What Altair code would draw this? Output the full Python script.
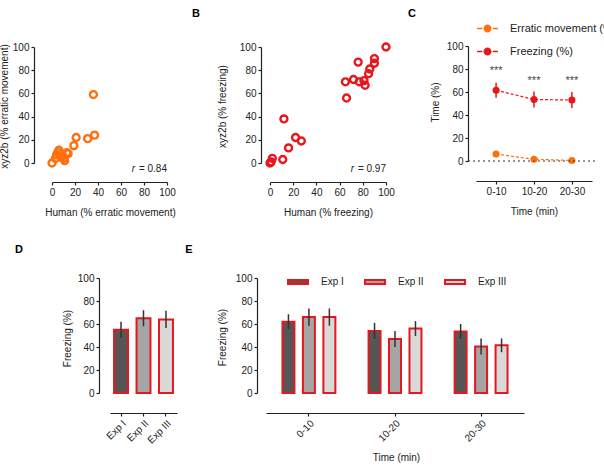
import altair as alt
import pandas as pd

W, H = 604, 474
FONT = "Liberation Sans"
INK = "#222222"
ORANGE = "#ff6f0f"
RED = "#e8161d"
GREYS = ["#565656", "#a5a5a5", "#d9d9d9"]
TICKS = [0, 20, 40, 60, 80, 100]

# ---------------- data ----------------
# A: erratic movement (%), human scorer vs xyz2b
human_err = [0, 3, 4, 6, 8, 10, 11, 13, 14, 9, 5, 7, 19, 21, 31, 37, 36]
xyz_err = [0, 4, 7, 11, 5, 4, 2, 9, 8, 7, 9, 6, 15, 22, 21, 24, 59]
r_err = 0.84

# B: freezing (%), human scorer vs xyz2b
human_frz = [0, 1, 2, 11, 16, 12, 22, 27, 65, 66, 72, 76, 77, 81, 82, 85, 86, 90, 90, 100]
xyz_frz = [0, 1, 4, 3, 13, 38, 22, 19, 70, 56, 72, 87, 70, 71, 67, 77, 81, 86, 90, 100]
r_frz = 0.97

# C: time course of both behaviours
time_bins = ["0-10", "10-20", "20-30"]
series_names = ["Erratic movement (%)", "Freezing (%)"]
erratic_mean = [6.0, 1.5, 0.5]
erratic_sem = [1.5, 1.0, 0.5]
freezing_mean = [61.5, 53.5, 53.0]
freezing_sem = [6.5, 7.0, 7.0]
star_labels = ["***", "***", "***"]
star_y = [78, 70, 70]

# D: freezing per experiment
exp_names = ["Exp I", "Exp II", "Exp III"]
exp_mean = [55, 65, 64]
exp_sem = [7, 7, 7.5]

# E: freezing per experiment and time bin
e_mean_0_10 = [62, 66, 66]
e_sem_0_10 = [6.5, 7.5, 7.5]
e_mean_10_20 = [54, 47, 56]
e_sem_10_20 = [7, 7, 6.5]
e_mean_20_30 = [53.5, 40.5, 41.5]
e_sem_20_30 = [6.5, 7, 6]


# ---------------- helpers ----------------
def left_axis(at_x, title, title_cx, title_cy):
    return alt.Axis(orient="left", offset=-at_x, values=TICKS, title=title,
                    titleX=title_cx - at_x, titleY=title_cy, titleAngle=270,
                    titleAlign="center", titleBaseline="middle")


def bottom_axis(at_y, title=None, title_cx=0, title_cy=0, **kw):
    props = dict(orient="bottom", offset=at_y - H, **kw)
    if title:
        props.update(title=title, titleX=title_cx, titleY=title_cy - at_y,
                     titleAlign="center", titleBaseline="middle")
    else:
        props.update(title=None)
    return alt.Axis(**props)


def pct_scale(top, bottom):
    return alt.Scale(domain=[0, 100], range=[bottom, top], nice=False, zero=False)


def r_label(xf, yf, r):
    df = pd.DataFrame({xf: [100], yf: [-5]})
    base = alt.Chart(df).encode(x=alt.X(f"{xf}:Q"), y=alt.Y(f"{yf}:Q"))
    eq = base.mark_text(text=f"= {r:.2f}", align="right", baseline="middle",
                        font=FONT, fontSize=10, color=INK)
    sym = base.mark_text(text="r", align="right", baseline="middle", font=FONT,
                         fontSize=10, fontStyle="italic", color=INK, dx=-32)
    return alt.layer(eq, sym)


def letter(ch, px, py):
    return alt.Chart(pd.DataFrame({"panel": [ch]})).mark_text(
        font=FONT, fontSize=11, fontWeight="bold", color="#000000",
        align="center", baseline="middle"
    ).encode(text="panel:N", x=alt.value(px), y=alt.value(py))


# ---------------- panel A ----------------
df_a = pd.DataFrame({"human": human_err, "xyz": xyz_err})
pts_a = alt.Chart(df_a).mark_point(shape="circle", filled=False, size=48, strokeWidth=2.4,
                                   color=ORANGE, opacity=1).encode(
    x=alt.X("human:Q", scale=alt.Scale(domain=[0, 100], range=[52, 167], nice=False),
            axis=bottom_axis(182, "Human (% erratic movement)", 110, 212, values=TICKS)),
    y=alt.Y("xyz:Q", scale=pct_scale(47, 163),
            axis=left_axis(34, "xyz2b (% erratic movement)", 4, 106)),
)
panel_a = alt.layer(pts_a, r_label("human", "xyz", r_err))

# ---------------- panel B ----------------
df_b = pd.DataFrame({"human": human_frz, "xyz": xyz_frz})
pts_b = alt.Chart(df_b).mark_point(shape="circle", filled=False, size=48, strokeWidth=2.4,
                                   color=RED, opacity=1).encode(
    x=alt.X("human:Q", scale=alt.Scale(domain=[0, 100], range=[270, 386], nice=False),
            axis=bottom_axis(182, "Human (% freezing)", 328, 212, values=TICKS)),
    y=alt.Y("xyz:Q", scale=pct_scale(47, 163),
            axis=left_axis(261, "xyz2b (% freezing)", 222, 106)),
)
panel_b = alt.layer(pts_b, r_label("human", "xyz", r_frz))

# ---------------- panel C ----------------
df_c = pd.DataFrame({
    "time": time_bins * 2,
    "series": [series_names[0]] * 3 + [series_names[1]] * 3,
    "mean": erratic_mean + freezing_mean,
    "sem": erratic_sem + freezing_sem,
})
df_c["lo"] = df_c["mean"] - df_c["sem"]
df_c["hi"] = df_c["mean"] + df_c["sem"]

c_xscale = alt.Scale(type="point", domain=time_bins, range=[476, 592], padding=0.53)
c_color = alt.Scale(domain=series_names, range=[ORANGE, RED])
cx_plain = alt.X("time:N", scale=c_xscale)

legend_c = alt.Legend(
    title=None, orient="none", legendX=482, legendY=23, direction="vertical",
    symbolType="M-2.6,-0.16H-1.3V0.16H-2.6Z M1.3,-0.16H2.6V0.16H1.3Z "
               "M-1,0A1,1 0 1,0 1,0A1,1 0 1,0 -1,0Z",
    symbolSize=64, symbolStrokeWidth=0, symbolOpacity=1, labelOffset=17,
    rowPadding=11, labelFontSize=11, labelFont=FONT, labelColor=INK, padding=0,
)

zero_c = alt.Chart(pd.DataFrame({"level": [0]})).mark_rule(
    strokeDash=[2, 3], color="#333333", strokeWidth=1.2
).encode(y=alt.Y("level:Q"), x=alt.value(468), x2=alt.value(598))

line_c = alt.Chart(df_c).mark_line(strokeDash=[3, 2], strokeWidth=1.2).encode(
    x=cx_plain, y=alt.Y("mean:Q"),
    stroke=alt.Stroke("series:N", scale=c_color, legend=None))
err_c = alt.Chart(df_c).mark_rule(strokeWidth=1.5).encode(
    x=cx_plain, y=alt.Y("lo:Q"), y2="hi:Q",
    stroke=alt.Stroke("series:N", scale=c_color, legend=None))
pt_c = alt.Chart(df_c).mark_point(shape="circle", filled=True, size=50, opacity=1).encode(
    x=alt.X("time:N", scale=c_xscale,
            axis=bottom_axis(181, "Time (min)", 534, 211, labelAngle=0)),
    y=alt.Y("mean:Q", scale=pct_scale(46, 161), axis=left_axis(468, "Time (%)", 435, 102)),
    color=alt.Color("series:N", scale=c_color, legend=legend_c))
stars_c = alt.Chart(pd.DataFrame({"time": time_bins, "y": star_y, "label": star_labels})).mark_text(
    font=FONT, fontSize=11, color="#444444", align="center", baseline="middle"
).encode(x=cx_plain, y=alt.Y("y:Q"), text="label:N")

panel_c = alt.layer(pt_c, zero_c, line_c, err_c, stars_c)

# ---------------- panel D ----------------
df_d = pd.DataFrame({"exp": exp_names, "mean": exp_mean, "sem": exp_sem})
df_d["lo"] = df_d["mean"] - df_d["sem"]
df_d["hi"] = df_d["mean"] + df_d["sem"]
d_xscale = alt.Scale(type="band", domain=exp_names, range=[110, 177],
                     paddingInner=0.38, paddingOuter=0.18)
fill_scale = alt.Scale(domain=exp_names, range=GREYS)

bars_d = alt.Chart(df_d).mark_bar(stroke=RED, strokeWidth=2, opacity=1).encode(
    x=alt.X("exp:N", scale=d_xscale, axis=bottom_axis(413, None, labelAngle=-45)),
    y=alt.Y("mean:Q", scale=pct_scale(278, 393), stack=None,
            axis=left_axis(99, "Freezing (%)", 67, 338)),
    fill=alt.Fill("exp:N", scale=fill_scale, legend=None))
err_d = alt.Chart(df_d).mark_rule(color="#333333", strokeWidth=1.5).encode(
    x=alt.X("exp:N", scale=d_xscale),
    y=alt.Y("lo:Q"), y2="hi:Q")
panel_d = alt.layer(bars_d, err_d)

# ---------------- panel E ----------------
df_e = pd.DataFrame({
    "time": [t for t in time_bins for _ in exp_names],
    "exp": exp_names * 3,
    "mean": e_mean_0_10 + e_mean_10_20 + e_mean_20_30,
    "sem": e_sem_0_10 + e_sem_10_20 + e_sem_20_30,
})
df_e["lo"] = df_e["mean"] - df_e["sem"]
df_e["hi"] = df_e["mean"] + df_e["sem"]
e_xscale = alt.Scale(type="band", domain=time_bins, range=[266, 524],
                     paddingInner=0.287, paddingOuter=0.142)
e_oscale = alt.Scale(domain=exp_names, paddingInner=0.415, paddingOuter=0.207)

legend_e = alt.Legend(
    title=None, orient="none", legendX=287, legendY=271, direction="horizontal",
    symbolType="M-1,-0.2H1V0.2H-1Z", symbolSize=400, symbolStrokeColor=RED,
    symbolStrokeWidth=2, symbolOpacity=1, labelOffset=12, columnPadding=17,
    labelFontSize=10, labelFont=FONT, labelColor=INK, padding=0,
)

bars_e = alt.Chart(df_e).mark_bar(stroke=RED, strokeWidth=2, opacity=1).encode(
    x=alt.X("time:N", scale=e_xscale,
            axis=bottom_axis(413, "Time (min)", 396, 457, labelAngle=-45)),
    xOffset=alt.XOffset("exp:N", scale=e_oscale),
    y=alt.Y("mean:Q", scale=pct_scale(278, 393), stack=None,
            axis=left_axis(257, "Freezing (%)", 222, 337)),
    fill=alt.Fill("exp:N", scale=fill_scale, legend=legend_e))
err_e = alt.Chart(df_e).mark_rule(color="#333333", strokeWidth=1.5).encode(
    x=alt.X("time:N", scale=e_xscale),
    xOffset=alt.XOffset("exp:N", scale=e_oscale),
    y=alt.Y("lo:Q"), y2="hi:Q")
panel_e = alt.layer(bars_e, err_e)

# ---------------- figure ----------------
chart = alt.layer(
    panel_a, panel_b, panel_c, panel_d, panel_e,
    letter("B", 196, 14), letter("C", 412, 14),
    letter("D", 19, 250), letter("E", 189, 250),
).resolve_scale(
    x="independent", y="independent", color="independent",
    fill="independent", xOffset="independent",
).properties(
    width=W, height=H, padding=0, autosize=alt.AutoSizeParams(type="none"),
).configure_view(stroke=None).configure_axis(
    labelFont=FONT, titleFont=FONT, labelFontSize=10, titleFontSize=10,
    labelColor=INK, titleColor=INK, titleFontWeight="normal",
    domainColor=INK, tickColor=INK, domainWidth=1.2, tickWidth=1.2,
    tickSize=3, labelPadding=2, grid=False, labelFlush=False, labelOverlap=False,
)

chart.save("out.html", embed_options={"renderer": "svg", "actions": False})
